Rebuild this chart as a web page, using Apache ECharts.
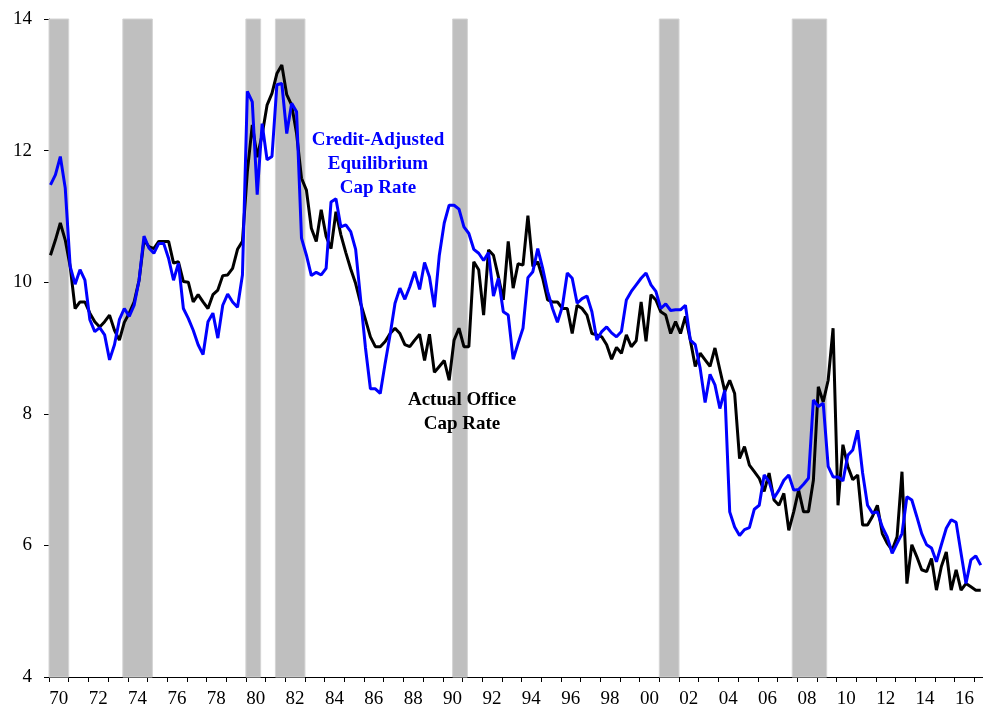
<!DOCTYPE html>
<html>
<head>
<meta charset="utf-8">
<title>Cap Rates</title>
<script src="https://cdn.jsdelivr.net/npm/echarts@6.0.0/dist/echarts.min.js"></script>
<style>
  html, body { margin: 0; padding: 0; background: #fff; }
  #main-chart { width: 983px; height: 709px; }
</style>
</head>
<body>
<div id="main-chart"></div>
<script>
// year labels under the x axis, every other year, centred in the year band
var yearLabels = ['70','72','74','76','78','80','82','84','86','88','90','92',
                  '94','96','98','00','02','04','06','08','10','12','14','16'];

// quarterly, starting 1970Q1
var creditAdjusted = [
  11.48, 11.63, 11.91, 11.43, 10.24, 9.97, 10.19, 10.03, 9.43, 9.25,
  9.31, 9.20, 8.82, 9.05, 9.43, 9.60, 9.48, 9.65, 10.03, 10.70,
  10.52, 10.44, 10.59, 10.59, 10.36, 10.03, 10.29, 9.60, 9.45, 9.27,
  9.05, 8.90, 9.40, 9.53, 9.15, 9.65, 9.82, 9.70, 9.62, 10.11,
  12.90, 12.74, 11.33, 12.41, 11.86, 11.91, 13.00, 13.02, 12.26, 12.72,
  12.59, 10.67, 10.41, 10.10, 10.15, 10.11, 10.21, 11.22, 11.27, 10.84,
  10.87, 10.77, 10.50, 9.75, 9.00, 8.38, 8.38, 8.31, 8.77, 9.20,
  9.68, 9.91, 9.74, 9.93, 10.16, 9.89, 10.30, 10.08, 9.62, 10.41,
  10.90, 11.17, 11.17, 11.11, 10.84, 10.74, 10.50, 10.44, 10.33, 10.45,
  9.79, 10.06, 9.55, 9.50, 8.83, 9.07, 9.30, 10.07, 10.16, 10.51,
  10.21, 9.86, 9.60, 9.39, 9.63, 10.14, 10.06, 9.68, 9.75, 9.79,
  9.55, 9.12, 9.25, 9.32, 9.23, 9.17, 9.25, 9.73, 9.86, 9.96,
  10.06, 10.14, 9.96, 9.86, 9.60, 9.67, 9.57, 9.58, 9.58, 9.65,
  9.12, 9.05, 8.69, 8.17, 8.60, 8.44, 8.08, 8.36, 6.51, 6.28,
  6.15, 6.24, 6.27, 6.55, 6.61, 7.07, 6.97, 6.72, 6.84, 6.99,
  7.07, 6.84, 6.85, 6.93, 7.02, 8.21, 8.11, 8.16, 7.20, 7.04,
  7.04, 6.98, 7.37, 7.45, 7.75, 7.10, 6.61, 6.49, 6.51, 6.28,
  6.13, 5.88, 6.03, 6.18, 6.74, 6.69, 6.44, 6.18, 6.01, 5.96,
  5.75, 6.01, 6.26, 6.39, 6.35, 5.88, 5.42, 5.78, 5.84, 5.70
];

var actualOffice = [
  10.41, 10.64, 10.90, 10.64, 10.24, 9.60, 9.70, 9.70, 9.53, 9.40,
  9.32, 9.40, 9.50, 9.27, 9.12, 9.39, 9.53, 9.70, 10.03, 10.64,
  10.54, 10.51, 10.62, 10.62, 10.62, 10.29, 10.31, 10.01, 10.00, 9.70,
  9.81, 9.70, 9.60, 9.81, 9.88, 10.10, 10.11, 10.21, 10.50, 10.62,
  11.68, 12.39, 11.90, 12.24, 12.69, 12.87, 13.17, 13.30, 12.85, 12.69,
  12.26, 11.58, 11.40, 10.82, 10.62, 11.10, 10.70, 10.51, 11.07, 10.72,
  10.45, 10.20, 9.98, 9.68, 9.43, 9.17, 9.02, 9.02, 9.10, 9.22,
  9.30, 9.22, 9.05, 9.02, 9.12, 9.21, 8.81, 9.21, 8.63, 8.72,
  8.81, 8.51, 9.12, 9.30, 9.02, 9.02, 10.31, 10.19, 9.50, 10.49,
  10.41, 10.08, 9.73, 10.62, 9.91, 10.28, 10.26, 11.01, 10.24, 10.31,
  10.06, 9.73, 9.70, 9.70, 9.60, 9.60, 9.22, 9.65, 9.60, 9.50,
  9.22, 9.20, 9.17, 9.05, 8.83, 9.01, 8.92, 9.20, 9.02, 9.11,
  9.70, 9.10, 9.81, 9.73, 9.55, 9.50, 9.22, 9.40, 9.22, 9.48,
  9.12, 8.72, 8.92, 8.82, 8.72, 9.00, 8.67, 8.34, 8.51, 8.31,
  7.32, 7.50, 7.22, 7.12, 7.02, 6.82, 7.10, 6.69, 6.61, 6.79,
  6.23, 6.51, 6.84, 6.51, 6.51, 6.99, 8.41, 8.18, 8.51, 9.30,
  6.61, 7.53, 7.20, 7.00, 7.07, 6.31, 6.31, 6.44, 6.61, 6.18,
  6.03, 5.93, 6.13, 7.12, 5.42, 6.01, 5.83, 5.63, 5.60, 5.80,
  5.32, 5.68, 5.90, 5.32, 5.63, 5.32, 5.42, 5.37, 5.32, 5.32
];

// recessions, start/end in years
var recessions = [
  [1970.0, 1971.0], [1973.75, 1975.25], [1980.0, 1980.75], [1981.5, 1983.0],
  [1990.5, 1991.25], [2001.0, 2002.0], [2007.75, 2009.5]
];

var firstYear = 1970;
var lastVisible = 2017.44;   // chart is cut off a little after 2017
var qOffset = 0.075;         // points sit slightly after the start of each quarter
var yearPx = 934 / (lastVisible - firstYear);

var serif = "'Liberation Serif', 'Times New Roman', serif";

function toPoints(arr) {
    return arr.map(function (v, i) { return [firstYear + qOffset + i / 4, v]; });
}

var chart = echarts.init(document.getElementById('main-chart'));

var option = {
    animation: false,
    backgroundColor: '#fff',
    grid: [
        { left: 49, top: 19, width: 934, height: 658 },
        // second grid only carries the year labels, shifted half a year right
        { left: 49 + yearPx / 2, top: 19, width: yearPx * 46, height: 658 }
    ],
    xAxis: [
        {
            type: 'value',
            gridIndex: 0,
            min: firstYear,
            max: lastVisible,
            interval: 1,
            axisLine: { show: true, onZero: false, lineStyle: { color: '#000', width: 1 } },
            axisTick: { show: true, length: 5, lineStyle: { color: '#000' } },
            axisLabel: { show: false },
            splitLine: { show: false }
        },
        {
            type: 'value',
            gridIndex: 1,
            min: 1970,
            max: 2016,
            interval: 2,
            axisLine: { show: false },
            axisTick: { show: false },
            axisLabel: {
                margin: 14, color: '#000', fontSize: 19, fontFamily: serif,
                showMinLabel: true, showMaxLabel: true,
                formatter: function (v) { return yearLabels[(v - 1970) / 2]; }
            },
            splitLine: { show: false }
        }
    ],
    yAxis: [
        {
            type: 'value',
            gridIndex: 0,
            min: 4,
            max: 14,
            interval: 2,
            axisLine: { show: true, lineStyle: { color: '#000', width: 1 } },
            axisTick: { show: true, length: 5, lineStyle: { color: '#000' } },
            axisLabel: { margin: 17, color: '#000', fontSize: 19, fontFamily: serif },
            splitLine: { show: false }
        },
        {
            type: 'value',
            gridIndex: 1,
            min: 4,
            max: 14,
            show: false,
            splitLine: { show: false }
        }
    ],
    series: [
        {
            name: 'recessions',
            type: 'line',
            xAxisIndex: 0,
            yAxisIndex: 0,
            data: [],
            z: 1,
            silent: true,
            markArea: {
                silent: true,
                itemStyle: { color: '#bfbfbf', borderColor: '#d4d4d4', borderWidth: 1 },
                data: recessions.map(function (r) { return [{ xAxis: r[0] }, { xAxis: r[1] }]; })
            }
        },
        {
            name: 'Actual Office Cap Rate',
            type: 'line',
            xAxisIndex: 0,
            yAxisIndex: 0,
            data: toPoints(actualOffice),
            showSymbol: false,
            z: 3,
            lineStyle: { color: '#000', width: 3 }
        },
        {
            name: 'Credit-Adjusted Equilibrium Cap Rate',
            type: 'line',
            xAxisIndex: 0,
            yAxisIndex: 0,
            data: toPoints(creditAdjusted),
            showSymbol: false,
            z: 4,
            lineStyle: { color: '#0000ff', width: 3 }
        }
    ],
    graphic: [
        {
            type: 'text',
            x: 378, y: 128,
            z: 100,
            style: {
                text: 'Credit-Adjusted\nEquilibrium\nCap Rate',
                align: 'center',
                verticalAlign: 'top',
                fill: '#0000ff',
                font: 'bold 19px ' + serif,
                lineHeight: 24
            }
        },
        {
            type: 'text',
            x: 462, y: 388,
            z: 100,
            style: {
                text: 'Actual Office\nCap Rate',
                align: 'center',
                verticalAlign: 'top',
                fill: '#000',
                font: 'bold 19px ' + serif,
                lineHeight: 24
            }
        }
    ]
};

chart.setOption(option);
</script>
</body>
</html>
